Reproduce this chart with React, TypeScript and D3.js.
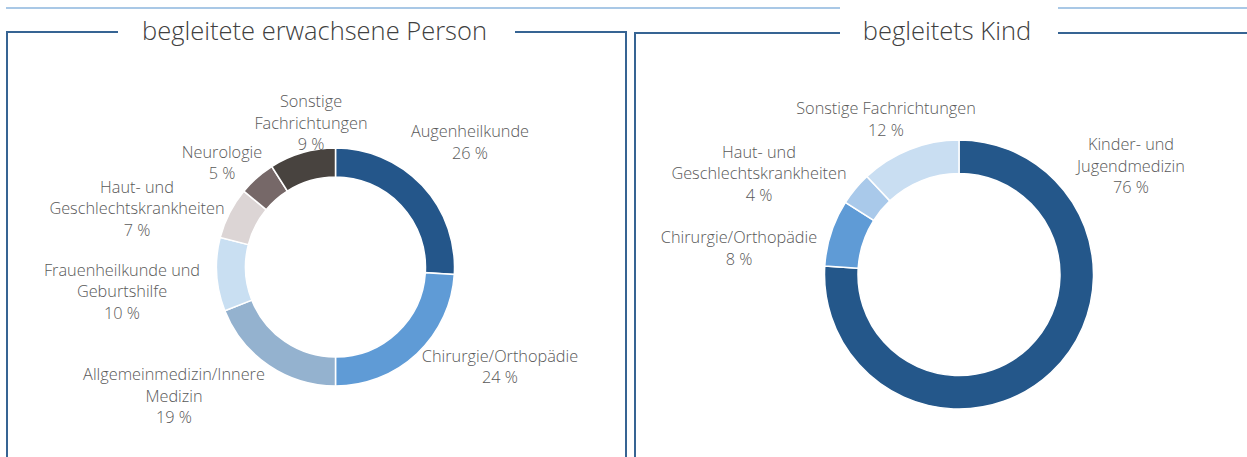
import React from 'react';
import * as d3 from 'd3';

// left chart: accompanied adult
const adultNames = [
  'Augenheilkunde',
  'Chirurgie/Orthopädie',
  'Allgemeinmedizin/Innere\nMedizin',
  'Frauenheilkunde und\nGeburtshilfe',
  'Haut- und\nGeschlechtskrankheiten',
  'Neurologie',
  'Sonstige\nFachrichtungen',
];
const adultValues = [26, 24, 19, 10, 7, 5, 9];
const adultColors = ['#24568a', '#5f9bd6', '#94b2cf', '#c9dff2', '#dcd5d5', '#766868', '#48433f'];

// right chart: accompanied child
const childNames = [
  'Kinder- und\nJugendmedizin',
  'Chirurgie/Orthopädie',
  'Haut- und\nGeschlechtskrankheiten',
  'Sonstige Fachrichtungen',
];
const childValues = [76, 8, 4, 12];
const childColors = ['#24578a', '#5f9bd6', '#a9c9ea', '#c9def2'];

const titles = ['begleitete erwachsene Person', 'begleitets Kind'];

// label block centres, relative to the donut centre (placed by hand in the original)
const adultLabelAt = [[134.5, -124.5], [164.5, 100], [-161.5, 129], [-213.5, 24.5], [-198.5, -58.5], [-113.5, -104], [-24.5, -144]];
const childLabelAt = [[172, -108.5], [-220, -26], [-200, -101], [-73, -155]];

const font = "'Open Sans', 'Noto Sans', sans-serif";
const frameColor = '#366493';
const topLineColor = '#a9c8e6';

const Donut = ({ cx, cy, rOuter, rInner, names, values, colors, labelAt }) => {
  const pie = d3.pie<number>().sort(null).value(d => d);
  const arc = d3.arc<d3.PieArcDatum<number>>().outerRadius(rOuter).innerRadius(rInner);
  const arcs = pie(values);
  const lh = 21.5;

  return (
    <g>
      <g transform={`translate(${cx},${cy})`}>
        {arcs.map((a, i) => (
          <path key={i} d={arc(a) || ''} fill={colors[i]} stroke="#fff" strokeWidth={1.5} />
        ))}
      </g>
      {arcs.map((a, i) => {
        const lines = [...names[i].split('\n'), `${values[i]} %`];
        const x = cx + labelAt[i][0];
        const y0 = cy + labelAt[i][1] - ((lines.length - 1) / 2) * lh;
        return (
          <text key={i} x={x} y={y0} textAnchor="middle" fontFamily={font} fontSize={16.3}
            fontWeight={350} fill="#595959">
            {lines.map((t, j) => (
              <tspan key={j} x={x} y={y0 + j * lh} dy="0.35em">{t}</tspan>
            ))}
          </text>
        );
      })}
    </g>
  );
};

const App = () => {
  const width = 1247;
  const height = 457;

  return (
    <svg width={width} height={height} style={{ position: 'absolute', left: 0, top: 0, background: '#fff' }}>
      {/* thin light rule along the top */}
      <line x1={6} x2={840} y1={8} y2={8} stroke={topLineColor} strokeWidth={2} />
      <line x1={1058} x2={width} y1={8} y2={8} stroke={topLineColor} strokeWidth={2} />

      {/* left frame */}
      <path d={`M118,32 H7 V${height}`} fill="none" stroke={frameColor} strokeWidth={2} />
      <path d={`M515,32 H626 V${height}`} fill="none" stroke={frameColor} strokeWidth={2} />
      <text x={314.5} y={40} textAnchor="middle" fontFamily={font} fontSize={25.5} fontWeight={350}
        fill="#404040">{titles[0]}</text>

      {/* right frame */}
      <path d={`M840,33 H635 V${height}`} fill="none" stroke={frameColor} strokeWidth={2} />
      <line x1={1058} x2={width} y1={33} y2={33} stroke={frameColor} strokeWidth={2} />
      <text x={947} y={40} textAnchor="middle" fontFamily={font} fontSize={25.5} fontWeight={350}
        fill="#404040">{titles[1]}</text>

      <Donut cx={335.5} cy={267} rOuter={119} rInner={90}
        names={adultNames} values={adultValues} colors={adultColors} labelAt={adultLabelAt} />
      <Donut cx={959} cy={274.5} rOuter={134.5} rInner={101}
        names={childNames} values={childValues} colors={childColors} labelAt={childLabelAt} />
    </svg>
  );
};

export default App;
